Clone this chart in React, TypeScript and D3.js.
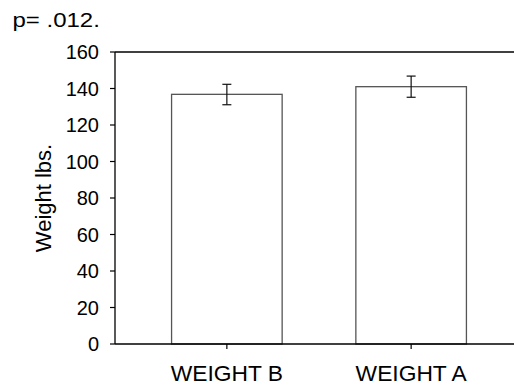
import React from 'react';
import * as d3 from 'd3';

const categories = ['WEIGHT B', 'WEIGHT A'];
const means = [136.8, 141.0];
const errLow = [131.1, 135.2];
const errHigh = [142.3, 146.8];
const yTicks = [0, 20, 40, 60, 80, 100, 120, 140, 160];

const W = 514;
const H = 386;
const left = 115;
const right = 523;
const top = 52;
const bottom = 344;

const App = () => {
    const x = d3.scaleBand<string>()
        .domain(categories)
        .range([left, right])
        .paddingInner(0.4)
        .paddingOuter(0.307);

    const y = d3.scaleLinear().domain([0, 160]).range([bottom, top]);

    const font = 'Liberation Sans, Arial, sans-serif';

    return (
        <svg width={W} height={H} style={{ position: 'absolute', left: 0, top: 0 }} fontFamily={font}>
            <rect width={W} height={H} fill="#fff" />
            {/* the note is drawn a little wider than the font in the original */}
            <text transform="translate(12.5, 27) scale(1.2, 1)" fontSize={20} fill="#000">p= .012.</text>

            {/* bars */}
            {categories.map((c, i) => (
                <rect key={c}
                    x={x(c)}
                    y={y(means[i])}
                    width={x.bandwidth()}
                    height={y(0) - y(means[i])}
                    fill="#fff"
                    stroke="#555"
                    strokeWidth={1.3} />
            ))}

            {/* error bars */}
            {categories.map((c, i) => {
                const cx = (x(c) as number) + x.bandwidth() / 2;
                return (
                    <g key={c} stroke="#111" strokeWidth={1.2}>
                        <line x1={cx} x2={cx} y1={y(errLow[i])} y2={y(errHigh[i])} />
                        <line x1={cx - 4.5} x2={cx + 4.5} y1={y(errLow[i])} y2={y(errLow[i])} />
                        <line x1={cx - 4.5} x2={cx + 4.5} y1={y(errHigh[i])} y2={y(errHigh[i])} />
                    </g>
                );
            })}

            {/* axes */}
            <line x1={left} x2={left} y1={top} y2={bottom} stroke="#000" strokeWidth={1.3} />
            <line x1={left} x2={W} y1={top} y2={top} stroke="#000" strokeWidth={1.3} />
            <line x1={left} x2={W} y1={bottom} y2={bottom} stroke="#000" strokeWidth={1.3} />

            {yTicks.map(t => (
                <g key={t}>
                    <line x1={left - 5} x2={left} y1={y(t)} y2={y(t)} stroke="#000" strokeWidth={1.2} />
                    <text x={99} y={y(t)} dy="0.36em" textAnchor="end" fontSize={20} fill="#000">{t}</text>
                </g>
            ))}

            {categories.map(c => {
                const cx = (x(c) as number) + x.bandwidth() / 2;
                return (
                    <g key={c}>
                        <line x1={cx} x2={cx} y1={bottom} y2={bottom + 5} stroke="#000" strokeWidth={1.2} />
                        <text x={cx} y={381} textAnchor="middle" fontSize={22.8} fill="#000">{c}</text>
                    </g>
                );
            })}

            <text transform={`translate(51, ${(top + bottom) / 2}) rotate(-90)`}
                textAnchor="middle" fontSize={22} fill="#000">Weight lbs.</text>
        </svg>
    );
};

export default App;
